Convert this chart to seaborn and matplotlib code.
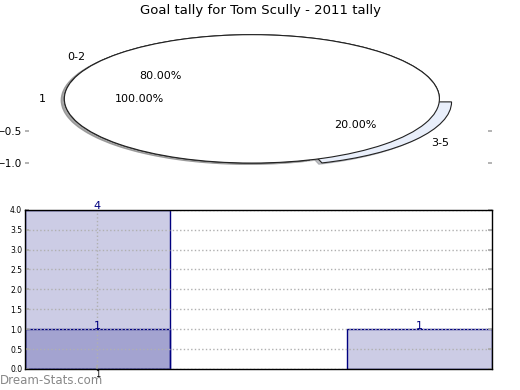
import matplotlib
matplotlib.use('Agg')
import matplotlib.pyplot as plt
import seaborn as sns

# goal tally data
bins = ['0-2', '3-5']
tally = [4, 1]
goal_cats = ['1']
goal_counts = [1]
title = 'Goal tally for Tom Scully - 2011 tally'

sns.set_theme(style='white', rc={'axes.edgecolor': 'black', 'axes.linewidth': 1.0,
                                 'text.color': 'black', 'xtick.color': 'black',
                                 'ytick.color': 'black'})
plt.rcParams['font.family'] = ['DejaVu Sans']

navy = (0, 0, 0.5)
shadow = {'ox': -0.012, 'oy': -0.015, 'shade': 0.45}
fig = plt.figure(figsize=(5.2, 3.9), dpi=100)

# top: the two pies, stretched to the axes
ax1 = fig.add_axes([0.048, 0.549, 0.898, 0.395])
ax1.pie(tally, labels=bins, autopct='%.2f%%', explode=[0, 0.08], shadow=shadow,
        colors=['white', '#e9effb'], wedgeprops={'edgecolor': '#222222', 'linewidth': 0.8},
        textprops={'fontsize': 8, 'color': 'black'})
ax1.pie(goal_counts, labels=goal_cats, autopct='%.2f%%', shadow=shadow,
        colors=['white'], wedgeprops={'edgecolor': '#222222', 'linewidth': 0.8},
        textprops={'fontsize': 8, 'color': 'black'})
ax1.set_aspect('auto')
ax1.set_xlim(-1.21, 1.28)
ax1.set_ylim(-1.2, 1.2)
ax1.set_frame_on(False)
ax1.set_xticks([])
ax1.set_yticks([-1.0, -0.5])
ax1.tick_params(axis='y', left=True, right=True, direction='in', length=3,
                color='#aaaaaa', labelcolor='black', labelsize=7.5, pad=2)
fig.suptitle(title, y=0.974, va='center', fontsize=9.5, color='black')

# bottom: overlapping bars
ax2 = fig.add_axes([0.048, 0.054, 0.898, 0.408])
sns.barplot(x=bins, y=tally, width=0.45, saturation=1, color='navy', ax=ax2)
sns.barplot(x=[bins[0]], y=goal_counts, width=0.45, saturation=1, color='navy', ax=ax2)
for p in ax2.patches:
    p.set_facecolor((0, 0, 0.5, 0.2))
    p.set_edgecolor(navy)
    p.set_linewidth(1.0)
for c in ax2.containers:
    ax2.bar_label(c, color=navy, fontsize=8, padding=-1)
ax2.set_xlim(-0.225, 1.225)
ax2.set_ylim(0, 4)
ax2.set_yticks([0, 0.5, 1, 1.5, 2, 2.5, 3, 3.5, 4])
ax2.set_yticklabels(['0.0', '0.5', '1.0', '1.5', '2.0', '2.5', '3.0', '3.5', '4.0'])
ax2.set_xticks([0])
ax2.set_xticklabels(goal_cats)
ax2.set_xlabel('')
ax2.set_ylabel('')
ax2.grid(True, linestyle=':', color='#b0b0b0', linewidth=1.0)
ax2.set_axisbelow(False)
ax2.tick_params(axis='y', left=True, right=True, direction='in', length=3,
                color='#aaaaaa', labelcolor='black', labelsize=5.5, pad=2)
ax2.tick_params(axis='x', bottom=True, direction='in', length=3,
                color='#aaaaaa', labelcolor='black', labelsize=6, pad=1)
for s in ax2.spines.values():
    s.set_zorder(5)

fig.text(0.0, 0.025, 'Dream-Stats.com', color='#888888', fontsize=8.5, va='center')

fig.savefig('out.png', dpi=100)
